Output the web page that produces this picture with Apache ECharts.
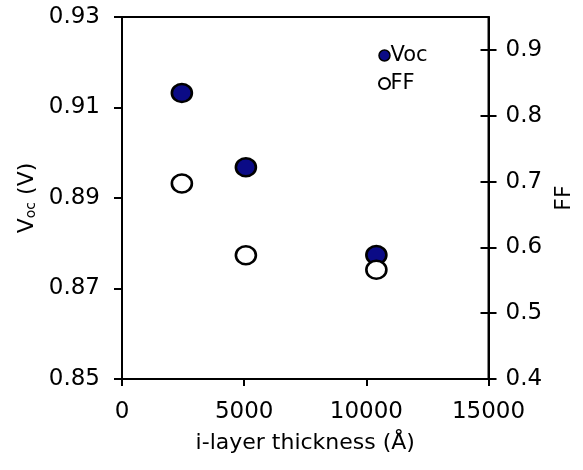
<!DOCTYPE html>
<html>
<head>
<meta charset="utf-8">
<script src="https://cdn.jsdelivr.net/npm/echarts@6/dist/echarts.min.js"></script>
<style>
  html, body { margin: 0; padding: 0; background: #fff; }
  #chart1 { width: 583px; height: 470px; }
</style>
</head>
<body>
<div id="chart1"></div>
<script>
// data
var thickness = [2450, 5070, 10410];
var vocValues = [0.9132, 0.8968, 0.8774];
var ffThickness = [2450, 5070, 10410];
var ffValues = [0.697, 0.588, 0.566];
var vocTicks = [0.85, 0.87, 0.89, 0.91, 0.93];
var ffTicks = [0.4, 0.5, 0.6, 0.7, 0.8, 0.9];

const font = 'DejaVu Sans';
const navy = '#0b0b86';
const tickFont = 23;
const nameFont = 22;

var myChart1 = echarts.init(document.getElementById('chart1'));

var vocData = [];
for (var i = 0; i < thickness.length; i++) {
    vocData.push([thickness[i], vocValues[i]]);
}
var ffData = [];
for (var j = 0; j < ffThickness.length; j++) {
    ffData.push([ffThickness[j], ffValues[j]]);
}

var lineStyle = { color: '#000', width: 2 };

var option = {
    animation: false,
    textStyle: { fontFamily: font },
    grid: {
        left: 122, right: 94, top: 17, bottom: 91,
        show: true, borderColor: '#000', borderWidth: 2
    },
    legend: {
        orient: 'vertical',
        left: 373, top: 40,
        itemWidth: 12, itemHeight: 11,
        itemGap: 7,
        textStyle: { fontFamily: font, fontSize: 21, color: '#000', padding: [0, 0, 0, -5] },
        data: [
            { name: 'Voc', icon: 'circle', itemStyle: { borderWidth: 1.5 } },
            { name: 'FF', icon: 'circle', itemStyle: { borderWidth: 2 } }
        ]
    },
    xAxis: {
        type: 'value',
        min: 0, max: 15000, interval: 5000,
        name: 'i-layer thickness (Å)',
        nameLocation: 'middle',
        nameGap: 53,
        nameTextStyle: { fontFamily: font, fontSize: nameFont, color: '#000' },
        axisLine: { show: true, lineStyle: lineStyle },
        axisTick: { show: true, inside: false, length: 7, lineStyle: lineStyle },
        axisLabel: {
            fontFamily: font, fontSize: tickFont, color: '#000', margin: 22,
            formatter: function (v) { return String(v); }
        },
        splitLine: { show: false }
    },
    yAxis: [
        {
            type: 'value',
            position: 'left',
            min: 0.85, max: 0.93,
            name: '{v|V}{s|oc} (V)',
            nameLocation: 'middle',
            nameRotate: 90,
            nameGap: 82,
            nameTextStyle: {
                fontFamily: font, fontSize: nameFont, color: '#000',
                rich: {
                    v: { fontFamily: font, fontSize: nameFont, color: '#000' },
                    s: { fontFamily: font, fontSize: 14, color: '#000', padding: [8, 0, 0, 0] }
                }
            },
            axisLine: { show: true, lineStyle: lineStyle },
            axisTick: { show: true, length: 8, lineStyle: lineStyle, customValues: vocTicks },
            axisLabel: {
                fontFamily: font, fontSize: tickFont, color: '#000', margin: 22,
                customValues: vocTicks,
                formatter: function (v) { return v.toFixed(2); }
            },
            splitLine: { show: false }
        },
        {
            type: 'value',
            position: 'right',
            min: 0.4, max: 0.95,
            name: 'FF',
            nameLocation: 'middle',
            nameRotate: 90,
            nameGap: 54,
            nameTextStyle: { fontFamily: font, fontSize: nameFont, color: '#000' },
            axisLine: { show: true, lineStyle: lineStyle },
            axisTick: { show: true, length: 8, lineStyle: lineStyle, customValues: ffTicks },
            axisLabel: {
                fontFamily: font, fontSize: tickFont, color: '#000', margin: 17,
                customValues: ffTicks,
                formatter: function (v) { return v.toFixed(1); }
            },
            splitLine: { show: false }
        },
        {
            // inner half of the crossing ticks on the right axis
            type: 'value',
            position: 'right',
            min: 0.4, max: 0.95,
            axisLine: { show: false },
            axisTick: { show: true, inside: true, length: 8, lineStyle: lineStyle, customValues: ffTicks },
            axisLabel: { show: false },
            splitLine: { show: false }
        }
    ],
    series: [
        {
            name: 'Voc',
            type: 'scatter',
            yAxisIndex: 0,
            symbol: 'circle',
            symbolSize: [20, 18],
            itemStyle: { color: navy, borderColor: '#000', borderWidth: 2.5, opacity: 1 },
            data: vocData
        },
        {
            name: 'FF',
            type: 'scatter',
            yAxisIndex: 1,
            symbol: 'circle',
            symbolSize: [20, 18],
            itemStyle: { color: '#fff', borderColor: '#000', borderWidth: 2.5, opacity: 1 },
            data: ffData
        }
    ]
};
myChart1.setOption(option);
</script>
</body>
</html>
